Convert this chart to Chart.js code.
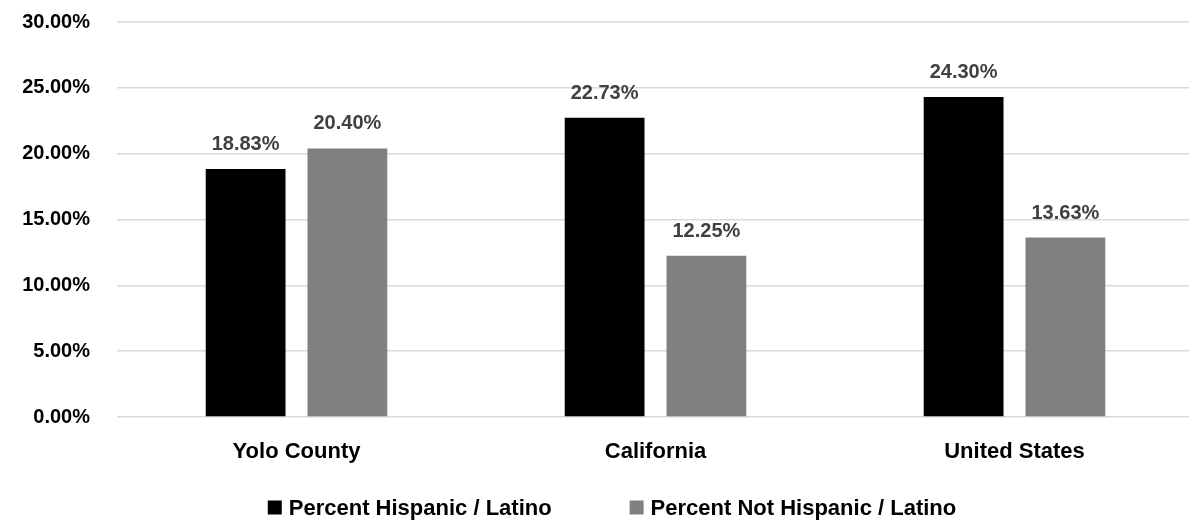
<!DOCTYPE html>
<html>
<head>
<meta charset="utf-8">
<script src="https://cdn.jsdelivr.net/npm/chart.js@4.4.1/dist/chart.umd.min.js"></script>
<style>
  html, body { margin: 0; padding: 0; background: #fff; overflow: hidden; }
  #wrap { width: 1189px; height: 521px; overflow: hidden; }
</style>
</head>
<body>
<div id="wrap"><canvas id="canvas" width="1194" height="521"></canvas></div>
<script>
const categories = ['Yolo County', 'California', 'United States'];
const seriesNames = ['Percent Hispanic / Latino', 'Percent Not Hispanic / Latino'];
const hispanic = [18.83, 22.73, 24.30];
const notHispanic = [20.40, 12.25, 13.63];
const seriesColors = ['#000000', '#808080'];

const yMin = 0;
const yMax = 30;
const yStep = 5;

const FONT = "'Liberation Sans', Arial, sans-serif";

const ctx = document.getElementById('canvas').getContext('2d');

const valueLabels = {
    id: 'valueLabels',
    afterDatasetsDraw: (chart) => {
        const ctx = chart.ctx;
        ctx.save();
        ctx.font = 'bold 20px ' + FONT;
        ctx.fillStyle = '#404040';
        ctx.textAlign = 'center';
        ctx.textBaseline = 'alphabetic';
        chart.data.datasets.forEach((ds, i) => {
            const meta = chart.getDatasetMeta(i);
            meta.data.forEach((bar, j) => {
                ctx.fillText(ds.data[j].toFixed(2) + '%', bar.x, bar.y - 19);
            });
        });
        ctx.restore();
    }
};

// legend drawn by hand so the spacing matches the original
const bottomLegend = {
    id: 'bottomLegend',
    afterDraw: (chart) => {
        const ctx = chart.ctx;
        const box = 14;
        const textGap = 7;
        const itemGap = 78;
        const centerX = 612;
        const centerY = 507.5;

        ctx.save();
        ctx.font = 'bold 22px ' + FONT;
        const items = chart.data.datasets.map(ds => ({
            label: ds.label,
            color: ds.backgroundColor,
            w: ctx.measureText(ds.label).width
        }));
        let total = 0;
        items.forEach((it, i) => {
            total += box + textGap + it.w;
            if (i < items.length - 1) total += itemGap;
        });

        let x = centerX - total / 2;
        ctx.textBaseline = 'middle';
        ctx.textAlign = 'left';
        items.forEach(it => {
            ctx.fillStyle = it.color;
            ctx.fillRect(x, centerY - box / 2, box, box);
            ctx.fillStyle = '#000000';
            ctx.fillText(it.label, x + box + textGap, centerY + 1);
            x += box + textGap + it.w + itemGap;
        });
        ctx.restore();
    }
};

const chart = new Chart(ctx, {
    type: 'bar',
    data: {
        labels: categories,
        datasets: [
            {
                label: seriesNames[0],
                data: hispanic,
                backgroundColor: seriesColors[0],
                categoryPercentage: 0.567,
                barPercentage: 0.784
            },
            {
                label: seriesNames[1],
                data: notHispanic,
                backgroundColor: seriesColors[1],
                categoryPercentage: 0.567,
                barPercentage: 0.784
            }
        ]
    },
    options: {
        responsive: false,
        animation: false,
        layout: {
            padding: { top: 22, bottom: 54, left: 0, right: 0 }
        },
        plugins: {
            legend: { display: false },
            tooltip: { enabled: false }
        },
        scales: {
            x: {
                grid: { display: false, drawTicks: false },
                border: { display: false },
                ticks: {
                    color: '#000000',
                    padding: 22,
                    font: { family: FONT, size: 22, weight: 'bold' }
                },
                afterFit: (scale) => { scale.height = 50; }
            },
            y: {
                min: yMin,
                max: yMax,
                grid: {
                    color: '#d9d9d9',
                    lineWidth: 1.5,
                    drawTicks: false
                },
                border: { display: false },
                ticks: {
                    stepSize: yStep,
                    color: '#000000',
                    padding: 27,
                    font: { family: FONT, size: 20, weight: 'bold' },
                    callback: (v) => Number(v).toFixed(2) + '%'
                },
                afterFit: (scale) => {
                    scale.width = 117;
                    scale.paddingTop = 0;
                    scale.paddingBottom = 0;
                }
            }
        }
    },
    plugins: [valueLabels, bottomLegend]
});
</script>
</body>
</html>
